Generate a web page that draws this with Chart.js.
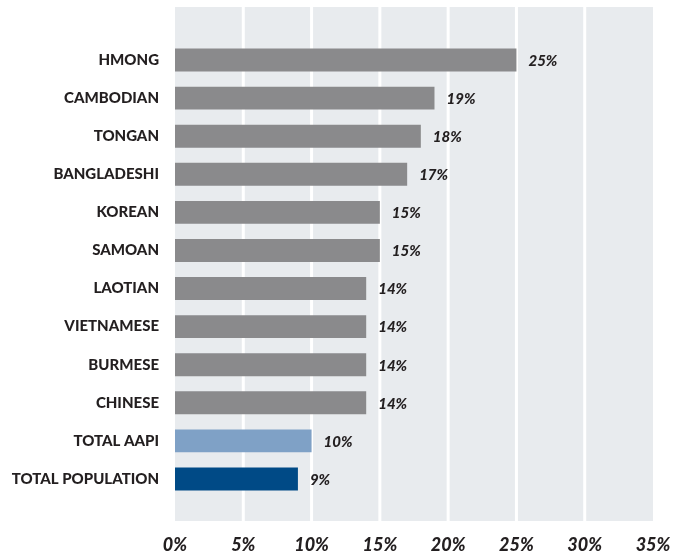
<!DOCTYPE html>
<html>
<head>
<meta charset="utf-8">
<script src="https://cdn.jsdelivr.net/npm/chart.js@4"></script>
<style>
  html, body { margin: 0; padding: 0; background: #fff; }
</style>
</head>
<body>
<canvas id="chart" width="679" height="554"></canvas>
<script>
// data
const groups = ['HMONG', 'CAMBODIAN', 'TONGAN', 'BANGLADESHI', 'KOREAN', 'SAMOAN',
  'LAOTIAN', 'VIETNAMESE', 'BURMESE', 'CHINESE', 'TOTAL AAPI', 'TOTAL POPULATION'];
const shares = [25, 19, 18, 17, 15, 15, 14, 14, 14, 14, 10, 9];
const barColors = ['#8a8a8c', '#8a8a8c', '#8a8a8c', '#8a8a8c', '#8a8a8c', '#8a8a8c',
  '#8a8a8c', '#8a8a8c', '#8a8a8c', '#8a8a8c', '#7fa1c6', '#004a86'];
const xTicks = [0, 5, 10, 15, 20, 25, 30, 35];

// grey panel + white gridlines, stretched a bit past the category band
const panel = {
  id: 'panel',
  beforeDraw(chart) {
    const { ctx, chartArea: a, scales } = chart;
    const top = a.top - 34, bottom = a.bottom + 23;
    ctx.save();
    ctx.fillStyle = '#e8ebee';
    ctx.fillRect(a.left, top, a.right - a.left, bottom - top);
    ctx.strokeStyle = '#ffffff';
    ctx.lineWidth = 3;
    xTicks.slice(1, -1).forEach(v => {
      const x = scales.x.getPixelForValue(v);
      ctx.beginPath();
      ctx.moveTo(x, top);
      ctx.lineTo(x, bottom);
      ctx.stroke();
    });
    ctx.restore();
  }
};

// value labels to the right of each bar
const valueLabels = {
  id: 'valueLabels',
  afterDatasetsDraw(chart) {
    const { ctx } = chart;
    const meta = chart.getDatasetMeta(0);
    ctx.save();
    ctx.font = 'italic 900 15px Lato';
    ctx.fillStyle = '#231f20';
    ctx.textAlign = 'left';
    ctx.textBaseline = 'middle';
    meta.data.forEach((bar, i) => {
      ctx.fillText(shares[i] + '%', bar.x + 12, bar.y + 1);
    });
    ctx.restore();
  }
};

new Chart(document.getElementById('chart'), {
  type: 'bar',
  data: {
    labels: groups,
    datasets: [{
      data: shares,
      backgroundColor: barColors,
      borderWidth: 0,
      barPercentage: 1,
      categoryPercentage: 0.6
    }]
  },
  options: {
    indexAxis: 'y',
    responsive: false,
    animation: false,
    layout: { padding: { top: 41, right: 26, bottom: 0, left: 0 } },
    plugins: {
      legend: { display: false },
      tooltip: { enabled: false }
    },
    scales: {
      x: {
        min: 0,
        max: 35,
        afterBuildTicks: s => { s.ticks = xTicks.map(v => ({ value: v })); },
        afterFit: s => { s.height = 56; s.paddingLeft = 0; s.paddingRight = 0; },
        grid: { display: false, drawTicks: false },
        border: { display: false },
        ticks: {
          padding: 36,
          color: '#231f20',
          font: { family: 'Lato', size: 18, weight: '900', style: 'italic' },
          callback: v => v + '%'
        }
      },
      y: {
        afterFit: s => { s.width = 175; },
        grid: { display: false, drawTicks: false },
        border: { display: false },
        ticks: {
          padding: 16,
          color: '#231f20',
          font: { family: 'Lato', size: 15, weight: '900' }
        }
      }
    }
  },
  plugins: [panel, valueLabels]
});
</script>
</body>
</html>
